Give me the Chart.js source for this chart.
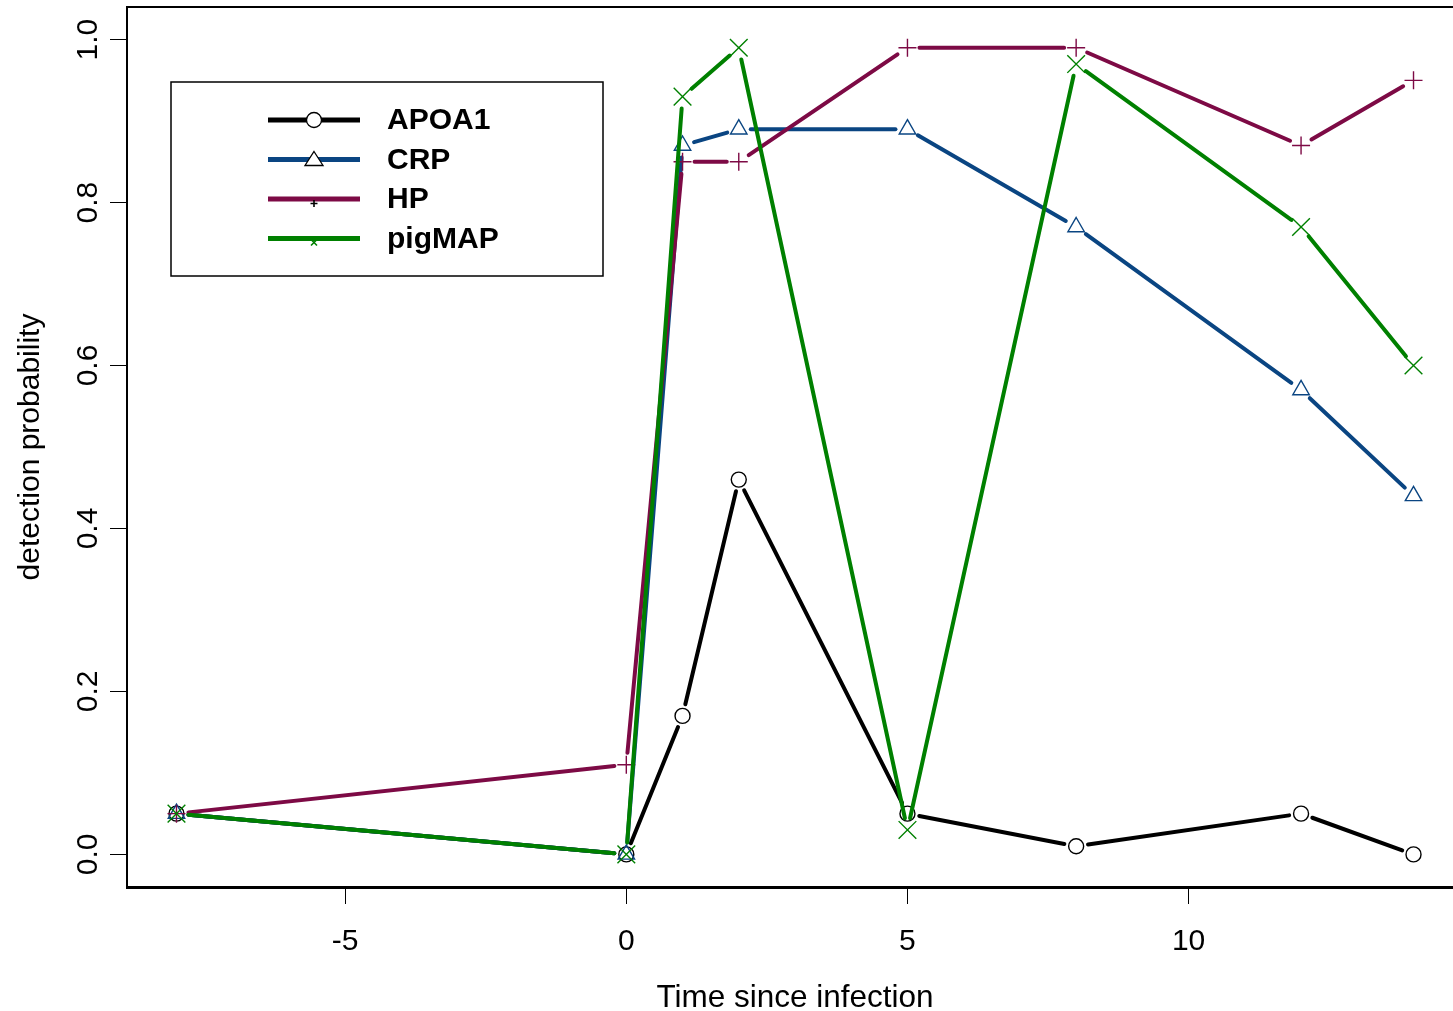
<!DOCTYPE html>
<html><head><meta charset="utf-8">
<script src="https://cdn.jsdelivr.net/npm/chart.js@4.4.1/dist/chart.umd.min.js"></script>
<style>
html,body{margin:0;padding:0;overflow:hidden;background:#fff;width:1453px;height:1011px}
#wrap{position:absolute;left:0;top:0;width:1463px;height:1011px}
</style></head>
<body><div id="wrap"><canvas id="c"></canvas></div>
<script>
// ---- data ----
const timePoints = [-8, 0, 1, 2, 5, 8, 12, 14];
const seriesNames = ['APOA1', 'CRP', 'HP', 'pigMAP'];
const apoa1  = [0.05, 0.00, 0.17, 0.46, 0.05, 0.01, 0.05, 0.00];
const crp    = [0.05, 0.00, 0.87, 0.89, 0.89, 0.77, 0.57, 0.44];
const hp     = [0.05, 0.11, 0.85, 0.85, 0.99, 0.99, 0.87, 0.95];
const pigmap = [0.05, 0.00, 0.93, 0.99, 0.03, 0.97, 0.77, 0.60];
const xTicks = [-5, 0, 5, 10];
const xTickLabels = ['-5', '0', '5', '10'];
const yTicks = [0, 0.2, 0.4, 0.6, 0.8, 1.0];
const yTickLabels = ['0.0', '0.2', '0.4', '0.6', '0.8', '1.0'];
const xTitle = 'Time since infection';
const yTitle = 'detection probability';

// ---- styles ----
const FONT = "'Liberation Sans', Arial, Helvetica, sans-serif";
const colors = ['#000000', '#0A4582', '#7D0A45', '#008000'];
const pointStyles = ['circle', 'triangle', 'cross', 'crossRot'];
const pointRadii = [7.5, 9.5, 9, 12.5];
const GAP = 12;

function seg(ctx) {
  const p0 = ctx.p0, p1 = ctx.p1;
  const L = Math.hypot(p1.x - p0.x, p1.y - p0.y);
  if (L <= 2 * GAP + 1) return { dash: [0.001, 1e6], off: 1 };
  return { dash: [L - 2 * GAP, L + 2 * GAP], off: 2 * L - GAP + ctx.p0DataIndex * 1e-4 };
}

const seriesValues = [apoa1, crp, hp, pigmap];
const datasets = seriesNames.map((name, i) => ({
  label: name,
  data: timePoints.map((t, j) => ({ x: t, y: seriesValues[i][j] })),
  borderColor: colors[i],
  borderWidth: 4,
  borderCapStyle: 'round',
  pointStyle: pointStyles[i],
  pointRadius: pointRadii[i],
  pointBorderWidth: 1.4,
  pointBorderColor: colors[i],
  pointBackgroundColor: 'rgba(0,0,0,0)',
  tension: 0,
  order: 4 - i,
  segment: {
    borderDash: c => seg(c).dash,
    borderDashOffset: c => seg(c).off
  }
}));

function zeroPad(s) { s.paddingTop = 0; s.paddingBottom = 0; s.paddingLeft = 0; s.paddingRight = 0; }

const extras = {
  id: 'extras',
  afterDraw(chart) {
    const ctx = chart.ctx, a = chart.chartArea, ys = chart.scales.y;
    ctx.save();
    // top frame line
    ctx.strokeStyle = '#000'; ctx.lineWidth = 2;
    ctx.beginPath(); ctx.moveTo(a.left - 1, a.top); ctx.lineTo(a.right, a.top); ctx.stroke();
    // rotated y tick labels
    ctx.fillStyle = '#000';
    ctx.font = '30px ' + FONT;
    ctx.textAlign = 'center'; ctx.textBaseline = 'alphabetic';
    yTicks.forEach((v, i) => {
      const y = ys.getPixelForValue(v);
      ctx.save(); ctx.translate(97, y); ctx.rotate(-Math.PI / 2);
      ctx.fillText(yTickLabels[i], 0, 0); ctx.restore();
    });
    // legend
    const bx = 171, by = 82, bw = 432, bh = 194;
    ctx.fillStyle = '#fff'; ctx.fillRect(bx, by, bw, bh);
    ctx.strokeStyle = '#000'; ctx.lineWidth = 1.5; ctx.strokeRect(bx, by, bw, bh);
    const rowsY = [120, 159.5, 199, 238.5];
    seriesNames.forEach((name, i) => {
      const y = rowsY[i];
      ctx.strokeStyle = colors[i]; ctx.lineWidth = 5; ctx.lineCap = 'butt';
      ctx.beginPath(); ctx.moveTo(268, y); ctx.lineTo(360, y); ctx.stroke();
      ctx.lineWidth = 1.3;
      if (i === 0) {
        ctx.fillStyle = '#fff'; ctx.strokeStyle = '#000';
        ctx.beginPath(); ctx.arc(314, y, 7.5, 0, Math.PI * 2); ctx.fill(); ctx.stroke();
      } else if (i === 1) {
        ctx.fillStyle = '#fff'; ctx.strokeStyle = '#000';
        ctx.beginPath(); ctx.moveTo(314, y - 8); ctx.lineTo(323, y + 6); ctx.lineTo(305, y + 6); ctx.closePath();
        ctx.fill(); ctx.stroke();
      } else if (i === 2) {
        ctx.strokeStyle = '#000'; ctx.lineWidth = 1.6;
        ctx.beginPath(); ctx.moveTo(310.5, y + 4.5); ctx.lineTo(317.5, y + 4.5);
        ctx.moveTo(314, y + 1); ctx.lineTo(314, y + 8); ctx.stroke();
      } else {
        ctx.strokeStyle = colors[3]; ctx.lineWidth = 1.6;
        ctx.beginPath(); ctx.moveTo(311, y + 1); ctx.lineTo(317, y + 7);
        ctx.moveTo(317, y + 1); ctx.lineTo(311, y + 7); ctx.stroke();
      }
      ctx.fillStyle = '#000'; ctx.font = 'bold 30px ' + FONT;
      ctx.textAlign = 'left'; ctx.textBaseline = 'middle';
      ctx.fillText(name, 387, y + 1);
    });
    ctx.restore();
  }
};

new Chart(document.getElementById('c'), {
  type: 'line',
  data: { datasets },
  plugins: [extras],
  options: {
    responsive: true,
    maintainAspectRatio: false,
    animation: false,
    events: [],
    layout: { autoPadding: false, padding: { top: 7, left: 0, right: 0, bottom: 0 } },
    plugins: { legend: { display: false }, tooltip: { enabled: false } },
    scales: {
      x: {
        type: 'linear', min: -8.88, max: 14.88,
        afterBuildTicks: s => { s.ticks = xTicks.map(v => ({ value: v })); },
        afterFit: s => { s.height = 124; zeroPad(s); },
        ticks: {
          callback: (v) => { const k = xTicks.indexOf(v); return k >= 0 ? xTickLabels[k] : ''; },
          font: { family: FONT, size: 30 }, color: '#000', padding: 20, maxRotation: 0, autoSkip: false
        },
        grid: { drawOnChartArea: false, drawTicks: true, tickLength: 17, tickColor: '#000', tickWidth: 1 },
        border: { display: true, color: '#000', width: 3 },
        title: { display: true, text: xTitle, color: '#000', font: { family: FONT, size: 31.5, lineHeight: 1 }, padding: { top: 0, bottom: -3 } }
      },
      y: {
        type: 'linear', min: -0.04, max: 1.04,
        afterBuildTicks: s => { s.ticks = yTicks.map(v => ({ value: v })); },
        afterFit: s => { s.width = 127; zeroPad(s); },
        ticks: { display: false },
        grid: { drawOnChartArea: false, drawTicks: true, tickLength: 17, tickColor: '#000', tickWidth: 1 },
        border: { display: true, color: '#000', width: 2 },
        title: { display: true, text: yTitle, color: '#000', font: { family: FONT, size: 30, lineHeight: 1 }, padding: { top: 16, bottom: 0 } }
      }
    }
  }
});
</script>
</body></html>
